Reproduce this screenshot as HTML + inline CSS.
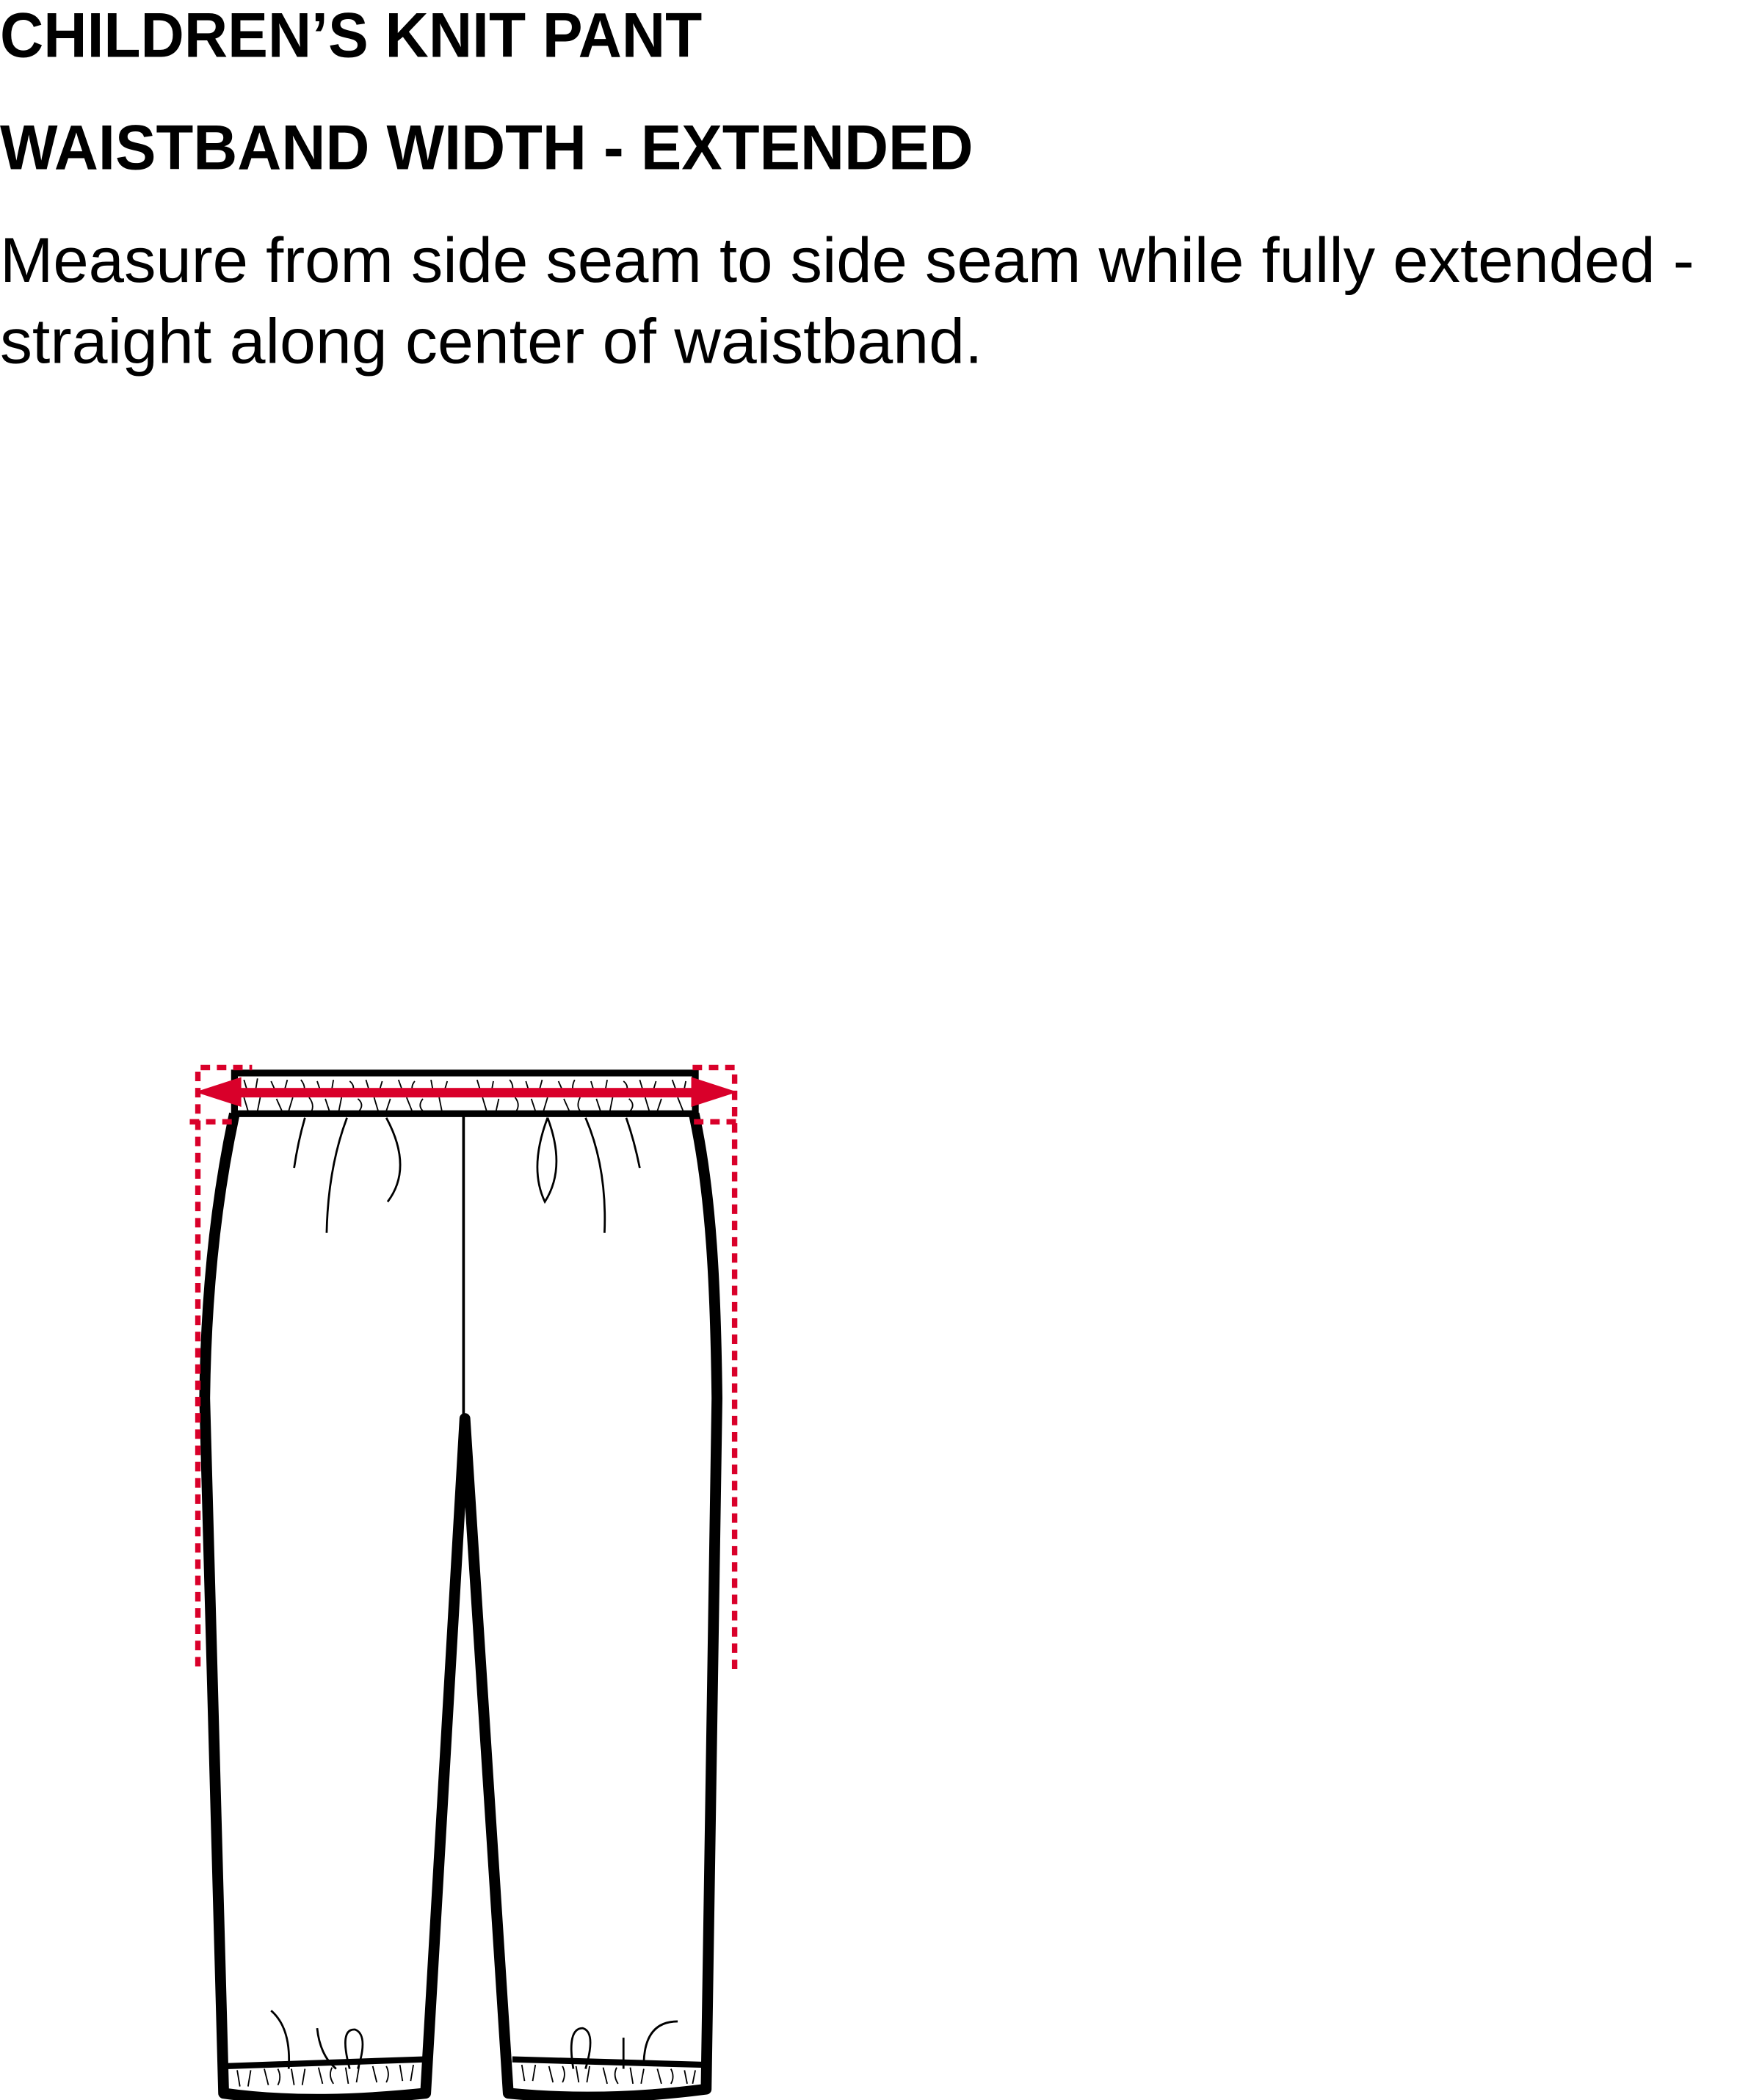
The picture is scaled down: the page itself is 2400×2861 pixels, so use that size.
<!DOCTYPE html>
<html><head><meta charset="utf-8"><style>
html,body{margin:0;padding:0;background:#fff;}
svg{display:block;}
</style></head><body>
<svg width="2400" height="2861" viewBox="0 0 1300 1550" preserveAspectRatio="none" xmlns="http://www.w3.org/2000/svg">
<rect width="1300" height="1550" fill="#fff"/>
<text x="0" y="42" font-family="Liberation Sans, sans-serif" font-weight="bold" font-size="47" textLength="518" lengthAdjust="spacingAndGlyphs">CHILDREN’S KNIT PANT</text>
<text x="0" y="125" font-family="Liberation Sans, sans-serif" font-weight="bold" font-size="47" textLength="718" lengthAdjust="spacingAndGlyphs">WAISTBAND WIDTH - EXTENDED</text>
<text x="0" y="208" font-family="Liberation Sans, sans-serif" font-size="47" textLength="1250" lengthAdjust="spacingAndGlyphs">Measure from side seam to side seam while fully extended  -</text>
<text x="0" y="268" font-family="Liberation Sans, sans-serif" font-size="47" textLength="725" lengthAdjust="spacingAndGlyphs">straight along center of waistband.</text>

<g transform="translate(0,-8)">
  <path d="M173,830 C160,890 152,960 151,1040 L165,1553 C215,1560 265,1558 314,1553 L343,1055 L375,1553 C425,1558 475,1556 521,1550 L529,1040 C528,960 525,890 512,830" fill="none" stroke="#000" stroke-width="8" stroke-linejoin="round"/>
  <line x1="342" y1="830" x2="342" y2="1055" stroke="#000" stroke-width="2"/>
  <rect x="173" y="800" width="340" height="30" fill="#fff" stroke="#000" stroke-width="5"/>
  <g stroke="#000" stroke-width="1" fill="none">
    <path d="M180,805 l3,10 M190,804 l-2,12 M200,806 l4,9 M212,805 l-3,11 M222,805 q4,5 2,10 M234,806 l3,9 M246,805 l-2,12 M258,806 q5,4 1,10 M270,805 l3,10 M282,806 l-3,10 M294,805 l4,11 M306,806 q-4,5 0,10 M318,805 l2,11 M330,806 l-3,10 M352,805 l3,10 M364,806 l-2,11 M376,805 q4,5 1,10 M388,806 l3,10 M400,805 l-3,11 M412,806 l4,9 M424,805 q-3,6 0,11 M436,806 l3,10 M448,805 l-2,11 M460,806 q5,4 1,10 M472,805 l3,10 M484,806 l-3,10 M496,805 l4,11 M506,806 l-2,10"/>
    <path d="M180,818 l3,10 M192,818 l-2,10 M204,819 l4,9 M216,818 l-3,10 M228,818 q4,5 2,10 M240,819 l3,9 M252,818 l-2,10 M264,819 q5,4 1,9 M276,818 l3,10 M288,819 l-3,9 M300,818 l4,10 M312,819 q-4,5 0,9 M324,818 l2,10 M356,818 l3,10 M368,819 l-2,9 M380,818 q4,5 1,10 M392,819 l3,9 M404,818 l-3,10 M416,819 l4,9 M428,818 q-3,6 0,10 M440,819 l3,9 M452,818 l-2,10 M464,819 q5,4 1,9 M476,818 l3,10 M488,819 l-3,9 M500,818 l4,10"/>
  </g>
  <g stroke="#000" stroke-width="1.5" fill="none">
    <path d="M225,833 Q220,850 217,870"/>
    <path d="M256,833 Q242,870 241,918"/>
    <path d="M285,833 Q305,870 286,895"/>
    <path d="M404,833 Q390,870 402,895 Q418,870 404,833"/>
    <path d="M432,833 Q448,870 446,918"/>
    <path d="M462,833 Q468,850 472,870"/>
    <path d="M200,1492 Q215,1505 213,1535"/>
    <path d="M234,1505 Q236,1525 248,1535"/>
    <path d="M258,1535 Q250,1505 262,1506 Q272,1510 264,1535"/>
    <path d="M423,1535 Q418,1505 430,1505 Q440,1508 432,1535"/>
    <path d="M460,1512 L460,1535"/>
    <path d="M475,1530 Q476,1500 500,1500"/>
  </g>
  <path d="M167,1533 L313,1528" stroke="#000" stroke-width="4.5"/>
  <path d="M378,1528 L519,1532" stroke="#000" stroke-width="4.5"/>
  <g stroke="#000" stroke-width="1" fill="none">
    <path d="M175,1536 l2,12 M185,1536 l-2,12 M195,1535 l3,12 M205,1535 q3,6 0,12 M215,1535 l2,12 M225,1535 l-2,12 M235,1534 l3,12 M245,1534 q-3,6 1,12 M255,1534 l2,12 M265,1533 l-2,12 M275,1533 l3,12 M285,1533 q3,6 0,12 M295,1532 l2,12 M305,1532 l-2,12"/>
    <path d="M385,1532 l2,12 M395,1532 l-2,12 M405,1533 l3,12 M415,1533 q3,6 0,12 M425,1533 l2,12 M435,1533 l-2,12 M445,1534 l3,12 M455,1534 q-3,6 1,12 M465,1534 l2,12 M475,1535 l-2,11 M485,1535 l3,11 M495,1535 q3,6 0,11 M505,1536 l2,10 M513,1536 l-2,10"/>
  </g>
</g>

<g stroke="#d9002a" stroke-width="4" stroke-dasharray="7,5" fill="none">
  <path d="M146,1230 L146,788 L186,788"/>
  <path d="M542,1232 L542,788 L506,788"/>
  <path d="M140,828 L174,828"/>
  <path d="M512,828 L545,828"/>
</g>
<g fill="#d9002a">
  <rect x="170" y="803" width="345" height="7"/>
  <polygon points="144,806 178,795 178,817"/>
  <polygon points="544,806 510,795 510,817"/>
</g>
</svg>
</body></html>
